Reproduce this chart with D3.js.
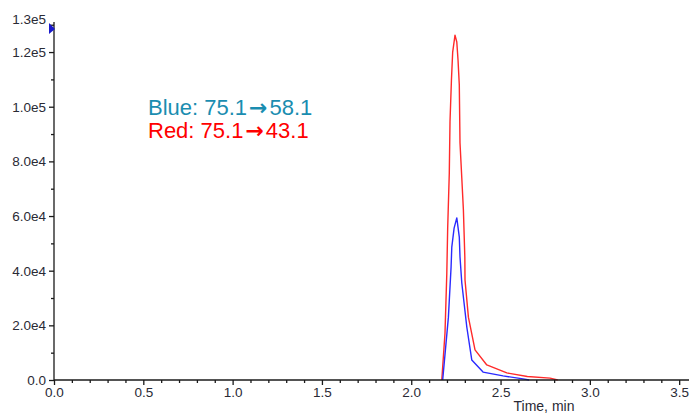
<!DOCTYPE html>
<html>

<head>
  <style>
    body {
      margin: 0;
      background: #fff;
    }

    .tick text {
      font-family: "Liberation Sans", Arial, sans-serif;
      font-size: 13.5px;
      fill: #2a2a35;
    }

    .trace {
      fill: none;
      stroke-width: 1.4;
      stroke-linejoin: round;
    }

    .label {
      font-family: "Liberation Sans", Arial, sans-serif;
      font-size: 22px;
    }

    .arrow {
      font-family: "DejaVu Sans", sans-serif;
      font-weight: bold;
    }
  </style>
</head>

<body>
  <svg id="chart" width="689" height="417"></svg>

  <script src="https://d3js.org/d3.v7.min.js"></script>
  <script>
    // tick values
    const yMajorTicks = [0, 20000, 40000, 60000, 80000, 100000, 120000, 130000]
    const yTickLabels = ["0.0", "2.0e4", "4.0e4", "6.0e4", "8.0e4", "1.0e5", "1.2e5", "1.3e5"]
    const yMinorTicks = [10000, 30000, 50000, 70000, 90000, 110000]
    const xMajorTicks = [0, 0.5, 1, 1.5, 2, 2.5, 3, 3.5]
    const xTickLabels = ["0.0", "0.5", "1.0", "1.5", "2.0", "2.5", "3.0", "3.5"]

    // red trace (75.1 -> 43.1), time in min / intensity in cps
    const redTime = [2.171, 2.189, 2.199, 2.204, 2.213, 2.217, 2.225, 2.232, 2.245, 2.255, 2.262, 2.269, 2.273,
      2.283, 2.292, 2.300, 2.301, 2.320, 2.357, 2.423, 2.535, 2.650, 2.777, 2.820]
    const redValue = [0, 17200, 38800, 55600, 75700, 94500, 109700, 120000, 126200, 123700, 117000, 108000, 86700,
      73900, 62200, 45000, 36600, 23000, 11000, 5500, 2600, 1300, 700, 0]

    // blue trace (75.1 -> 58.1)
    const blueTime = [2.176, 2.208, 2.223, 2.227, 2.240, 2.255, 2.269, 2.273, 2.283, 2.311, 2.339, 2.402, 2.514,
      2.626, 2.660]
    const blueValue = [0, 23000, 41300, 48600, 55600, 59300, 52300, 45000, 35500, 19400, 7300, 2900, 1500,
      400, 0]

    let svg = d3.select("#chart")

    let mLeft = 54,
      mBottom = 380,
      mTop = 22,
      mRight = 689

    let x = d3.scaleLinear()
      .domain([0, 3.555])
      .range([mLeft, mRight])

    let y = d3.scaleLinear()
      .domain([0, 131000])
      .range([mBottom, mTop])

    let line = d3.line()
      .x(d => x(d[0]))
      .y(d => y(d[1]))

    // traces first, axes drawn over them
    svg.append("path")
      .attr("class", "trace")
      .attr("stroke", "#ff2a2a")
      .attr("d", line(d3.zip(redTime, redValue)))

    svg.append("path")
      .attr("class", "trace")
      .attr("stroke", "#2a2aff")
      .attr("d", line(d3.zip(blueTime, blueValue)))

    // minor ticks
    svg.append("g")
      .attr("transform", "translate(" + mLeft + ",0)")
      .call(d3.axisLeft(y).tickValues(yMinorTicks).tickSize(3).tickFormat(""))
      .call(g => g.select(".domain").remove())

    svg.append("g")
      .attr("transform", "translate(0," + mBottom + ")")
      .call(d3.axisBottom(x).tickValues(d3.range(1, 36).filter(i => i % 5 != 0).map(i => i / 10)).tickSize(3).tickFormat(""))
      .call(g => g.select(".domain").remove())

    // y axis
    let yAxis = svg.append("g")
      .attr("transform", "translate(" + mLeft + ",0)")
      .call(d3.axisLeft(y).tickValues(yMajorTicks).tickSize(5).tickPadding(3)
        .tickFormat((d, i) => yTickLabels[i]))
    yAxis.select(".domain").attr("d", "M0," + mTop + "V" + mBottom)
    yAxis.selectAll(".tick text").filter(d => d == 130000).attr("dy", "-0.1em")

    // x axis
    let xAxis = svg.append("g")
      .attr("transform", "translate(0," + mBottom + ")")
      .call(d3.axisBottom(x).tickValues(xMajorTicks).tickSize(5).tickPadding(2)
        .tickFormat((d, i) => xTickLabels[i]))
    xAxis.select(".domain").attr("d", "M" + mLeft + ",0H" + mRight)

    svg.selectAll(".domain, .tick line")
      .attr("stroke", "#1a1a1a")
      .attr("stroke-width", 1.3)

    // marker at top of y axis
    svg.append("path")
      .attr("d", "M" + (mLeft - 5) + "," + (mTop + 1) + "L" + (mLeft + 1) + "," + (mTop + 7) + "L" + (mLeft - 5) + "," + (mTop + 12) + "Z")
      .attr("fill", "#1a1acc")

    svg.append("text")
      .attr("x", 544)
      .attr("y", 411)
      .attr("text-anchor", "middle")
      .style("font-family", "Liberation Sans, Arial, sans-serif")
      .style("font-size", "14px")
      .style("fill", "#2a2a35")
      .text("Time, min")

    // transition labels
    let blueLabel = svg.append("text")
      .attr("class", "label")
      .attr("x", 148)
      .attr("y", 115)
      .style("fill", "#1a8db0")
    blueLabel.append("tspan").text("Blue: 75.1")
    blueLabel.append("tspan").attr("class", "arrow").attr("dx", 2).text("\u2192")
    blueLabel.append("tspan").attr("dx", 2).text("58.1")

    let redLabel = svg.append("text")
      .attr("class", "label")
      .attr("x", 148)
      .attr("y", 138)
      .style("fill", "#ff0000")
    redLabel.append("tspan").text("Red: 75.1")
    redLabel.append("tspan").attr("class", "arrow").attr("dx", 2).text("\u2192")
    redLabel.append("tspan").attr("dx", 2).text("43.1")
  </script>
</body>

</html>
